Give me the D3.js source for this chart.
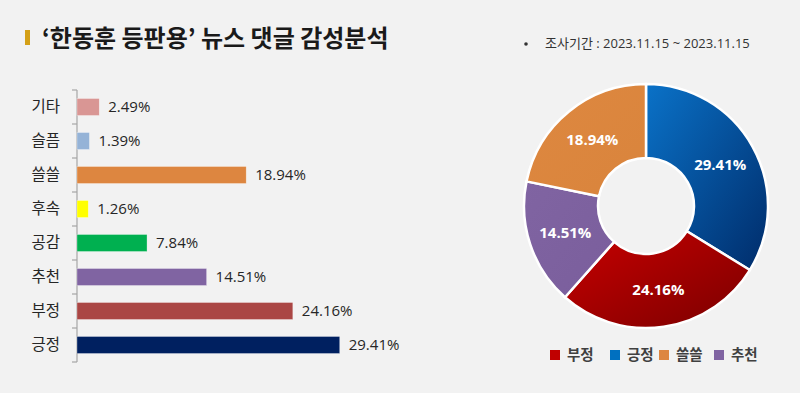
<!DOCTYPE html>
<html><head><meta charset="utf-8">
<script src="https://cdn.jsdelivr.net/npm/d3@7"></script>
<style>
html,body{margin:0;padding:0;background:#F2F2F2;}
svg{display:block;font-family:"Open Sans","Noto Sans CJK KR",sans-serif;}
</style></head>
<body><svg id="c" width="800" height="393"></svg>
<script>
const barCategories = ["기타","슬픔","쓸쓸","후속","공감","추천","부정","긍정"];
const barValues = [2.49,1.39,18.94,1.26,7.84,14.51,24.16,29.41];
const barColors = ["#D99694","#95B3D7","#DD8640","#FFFF00","#00B050","#8064A2","#AA4644","#002060"];

const pieCategories = ["긍정","부정","추천","쓸쓸"];
const pieValues = [29.41,24.16,14.51,18.94];
const legendOrder = ["부정","긍정","쓸쓸","추천"];
const pieColors = {"긍정":["#0A72C8","#002C6A"],"부정":["#C80000","#7A0000"],"추천":["#8064A2","#7A5E9C"],"쓸쓸":["#DE8840","#D9843C"]};
const legendColors = {"부정":"#C00000","긍정":"#0070C0","쓸쓸":"#DD8640","추천":"#8064A2"};

const svg = d3.select("#c");
svg.append("rect").attr("width",800).attr("height",393).attr("fill","#F2F2F2");

// Title
svg.append("rect").attr("x",25).attr("y",30).attr("width",5).attr("height",15).attr("fill","#D4A017");
svg.append("text").attr("x",42).attr("y",47).attr("font-size",24).attr("font-weight","bold")
  .attr("fill","#1a1a1a").attr("font-family","'Noto Sans CJK KR',sans-serif")
  .text("‘한동훈 등판용’ 뉴스 댓글 감성분석");

// Subtitle
svg.append("circle").attr("cx",526).attr("cy",44).attr("r",1.8).attr("fill","#333");
svg.append("text").attr("x",545).attr("y",48).attr("font-size",13).attr("fill","#333")
  .text("조사기간 : 2023.11.15 ~ 2023.11.15");

// Bar chart
const x = d3.scaleLinear().domain([0,30]).range([77, 77+268]);
const y = d3.scaleBand().domain(barCategories).range([90,362]).paddingInner(0.5).paddingOuter(0.25);
const yAxisScale = d3.scaleBand().domain(barCategories).range([90,362]);

const g = svg.append("g");
g.append("line").attr("x1",77).attr("x2",77).attr("y1",90).attr("y2",362).attr("stroke","#A6A6A6").attr("stroke-width",1.2);
const bounds = barCategories.map(c=>yAxisScale(c)).concat([362]);
g.selectAll("line.tick").data(bounds).join("line").attr("class","tick")
  .attr("x1",72).attr("x2",77).attr("y1",d=>d).attr("y2",d=>d).attr("stroke","#A6A6A6").attr("stroke-width",1.2);

g.selectAll("rect.bar").data(barCategories).join("rect").attr("class","bar")
  .attr("x",x(0)).attr("y",d=>y(d)).attr("width",(d,i)=>x(barValues[i])-x(0)).attr("height",y.bandwidth())
  .attr("fill",(d,i)=>barColors[i]).attr("stroke","rgba(255,255,255,0.5)").attr("stroke-width",0.6);

g.selectAll("text.cat").data(barCategories).join("text").attr("class","cat")
  .attr("x",60).attr("y",d=>y(d)+y.bandwidth()/2).attr("dy","0.35em").attr("text-anchor","end")
  .attr("font-size",15.5).attr("fill","#262626").attr("font-family","'Noto Sans CJK KR',sans-serif").text(d=>d);

g.selectAll("text.val").data(barCategories).join("text").attr("class","val")
  .attr("x",(d,i)=>x(barValues[i])+9).attr("y",d=>y(d)+y.bandwidth()/2).attr("dy","0.36em")
  .attr("font-size",15).attr("fill","#262626").text((d,i)=>barValues[i].toFixed(2)+"%");

// Donut
const cx=646, cy=206, rOuter=122, rInner=48;
const defs = svg.append("defs");
pieCategories.forEach((c,i)=>{
  const lg = defs.append("linearGradient").attr("id","g"+i).attr("x1","0").attr("y1","0").attr("x2","1").attr("y2","1");
  lg.append("stop").attr("offset","0%").attr("stop-color",pieColors[c][0]);
  lg.append("stop").attr("offset","100%").attr("stop-color",pieColors[c][1]);
});
const pie = d3.pie().sort(null).value(d=>d.v);
const arcs = pie(pieCategories.map((c,i)=>({c,v:pieValues[i],i})));
const arc = d3.arc().innerRadius(rInner).outerRadius(rOuter);
const dg = svg.append("g").attr("transform",`translate(${cx},${cy})`);
dg.selectAll("path").data(arcs).join("path").attr("d",arc)
  .attr("fill",d=>`url(#g${d.data.i})`).attr("stroke","#FFFFFF").attr("stroke-width",2.5);
dg.selectAll("text").data(arcs).join("text")
  .attr("transform",d=>`translate(${arc.centroid(d)})`).attr("text-anchor","middle").attr("dy","0.35em")
  .attr("font-size",15).attr("font-weight","bold").attr("fill","#FFFFFF")
  .text(d=>d.data.v.toFixed(2)+"%");

// Legend
const legX = [550,610,659,714];
const lg = svg.append("g");
legendOrder.forEach((c,i)=>{
  lg.append("rect").attr("x",legX[i]).attr("y",350).attr("width",10).attr("height",10).attr("fill",legendColors[c]);
  lg.append("text").attr("x",legX[i]+17).attr("y",355).attr("dy","0.35em").attr("font-size",14.5)
    .attr("font-weight","bold").attr("fill","#404040").attr("font-family","'Noto Sans CJK KR',sans-serif").text(c);
});
</script></body></html>
